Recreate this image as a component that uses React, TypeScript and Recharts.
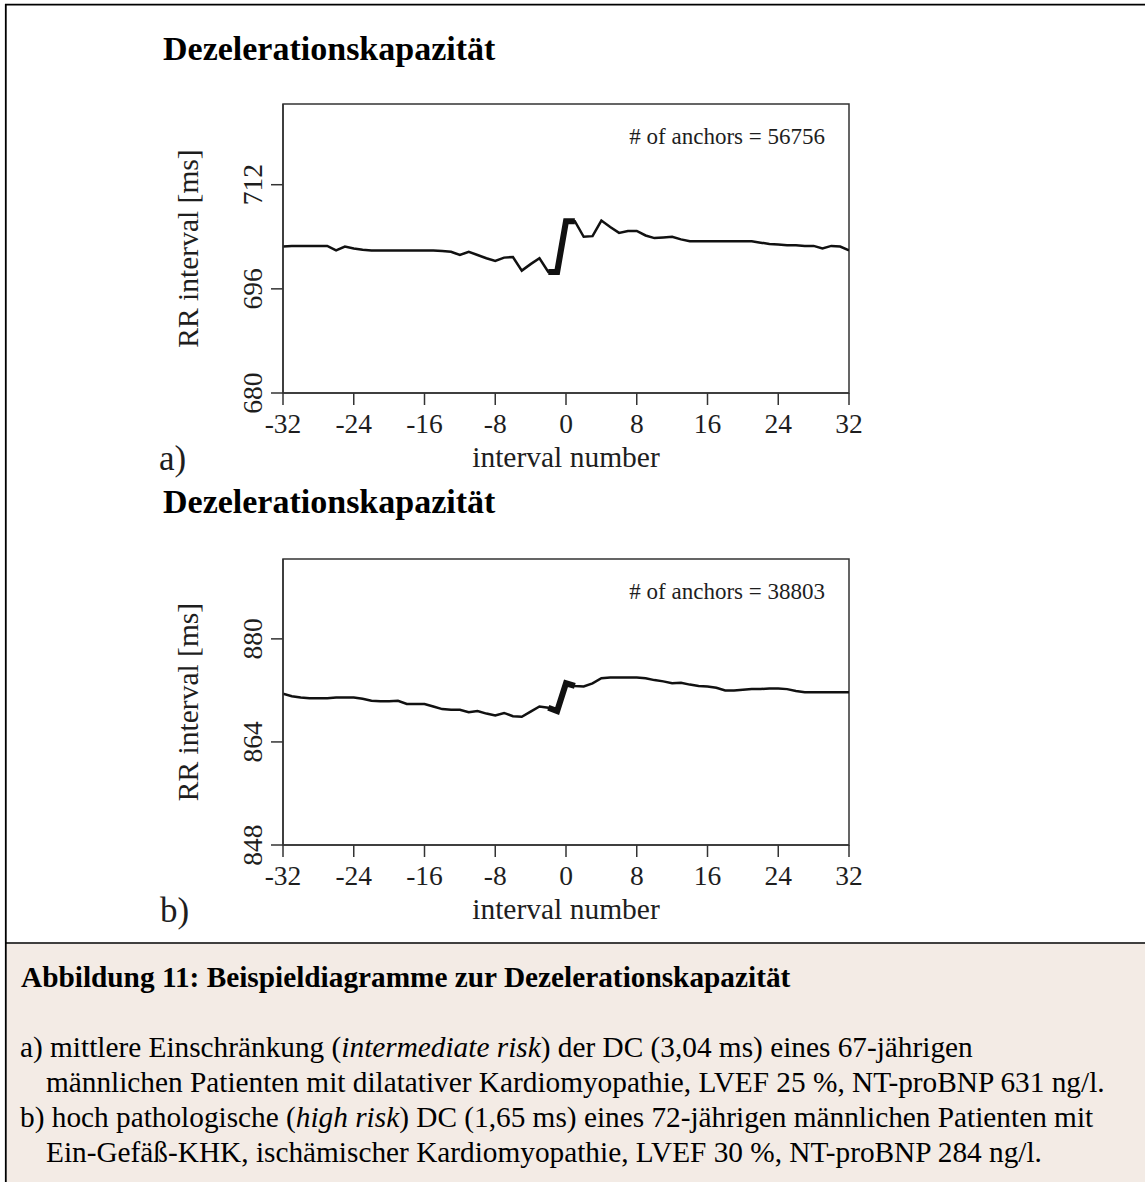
import React from 'react';
import { LineChart, Line, XAxis, YAxis, ReferenceArea, Label } from 'recharts';

const FONT = "'Liberation Serif', 'Times New Roman', Times, serif";
const INK = '#111';
const AXIS = '#333';
const TEXT = '#1e1e1e';
const CAPTION_SIZE = 29.3;

// interval numbers of the PRSA curve (anchor at 0)
const intervalNumbers = [
  -32, -31, -30, -29, -28, -27, -26, -25, -24, -23, -22, -21, -20, -19, -18, -17,
  -16, -15, -14, -13, -12, -11, -10, -9, -8, -7, -6, -5, -4, -3, -2, -1,
  0, 1, 2, 3, 4, 5, 6, 7, 8, 9, 10, 11, 12, 13, 14, 15,
  16, 17, 18, 19, 20, 21, 22, 23, 24, 25, 26, 27, 28, 29, 30, 31, 32,
];

// points entering the DC formula: X(-2), X(-1), X(0), X(1)
const highlighted = [-2, -1, 0, 1];

// a) averaged RR intervals [ms]
const rrA = [
  702.5, 702.6, 702.6, 702.6, 702.6, 702.6, 701.9, 702.5, 702.2, 702.0, 701.9, 701.9, 701.9, 701.9, 701.9, 701.9,
  701.9, 701.9, 701.8, 701.7, 701.2, 701.7, 701.2, 700.7, 700.3, 700.8, 700.9, 698.8, 699.8, 700.7, 698.6, 698.6,
  706.4, 706.4, 704.0, 704.1, 706.5, 705.5, 704.6, 704.9, 704.9, 704.2, 703.8, 703.9, 704.0, 703.6, 703.3, 703.3,
  703.3, 703.3, 703.3, 703.3, 703.3, 703.3, 703.1, 702.9, 702.8, 702.7, 702.7, 702.6, 702.6, 702.2, 702.6, 702.5, 701.9,
];

// b) averaged RR intervals [ms]
const rrB = [
  871.5, 871.1, 870.9, 870.8, 870.8, 870.8, 870.9, 870.9, 870.9, 870.7, 870.4, 870.3, 870.3, 870.4, 869.9, 869.9,
  869.9, 869.5, 869.1, 869.0, 869.0, 868.6, 868.8, 868.4, 868.1, 868.5, 868.0, 867.9, 868.7, 869.5, 869.3, 868.8,
  873.1, 872.7, 872.6, 873.1, 873.9, 874.0, 874.0, 874.0, 874.0, 873.9, 873.6, 873.4, 873.1, 873.2, 872.9, 872.7,
  872.6, 872.4, 872.0, 872.0, 872.1, 872.2, 872.2, 872.3, 872.3, 872.2, 871.9, 871.7, 871.7, 871.7, 871.7, 871.7, 871.7,
];

const xTicks = [-32, -24, -16, -8, 0, 8, 16, 24, 32];
const yTicksA = [680, 696, 712];
const yTicksB = [848, 864, 880];
const yDomainA: [number, number] = [680, 724.4];
const yDomainB: [number, number] = [848, 892.4];
const anchorsA = 56756;
const anchorsB = 38803;

const panelTitle = 'Dezelerationskapazität';

const YTick = (props: any) => {
  const { x, y, payload } = props;
  return (
    <text
      x={x}
      y={y}
      transform={`rotate(-90, ${x}, ${y})`}
      textAnchor="middle"
      fontFamily={FONT}
      fontSize={27.5}
      fill={TEXT}
    >
      {payload.value}
    </text>
  );
};

type PanelProps = {
  values: number[];
  yDomain: [number, number];
  yTicks: number[];
  anchors: number;
  top: number;
  height: number;
  marginTop: number;
};

function Panel({ values, yDomain, yTicks, anchors, top, height, marginTop }: PanelProps) {
  const data = intervalNumbers.map((x, i) => ({
    x,
    rr: values[i],
    dc: highlighted.includes(x) ? values[i] : null,
  }));
  return (
    <div style={{ position: 'absolute', left: 0, top, width: 900, height }}>
      <LineChart
        width={900}
        height={height}
        data={data}
        margin={{ top: marginTop, right: 51, bottom: 4, left: 173 }}
      >
        <XAxis
          type="number"
          dataKey="x"
          domain={[-32, 32]}
          ticks={xTicks}
          interval={0}
          allowDataOverflow
          height={78}
          tickSize={12}
          tickMargin={8.5}
          axisLine={{ stroke: AXIS, strokeWidth: 1.5 }}
          tickLine={{ stroke: AXIS, strokeWidth: 1.5 }}
          tick={{ fontFamily: FONT, fontSize: 27.5, fill: TEXT }}
        >
          <Label
            value="interval number"
            position="insideBottom"
            offset={4}
            style={{ fontFamily: FONT, fontSize: 29.5, fill: TEXT }}
          />
        </XAxis>
        <YAxis
          type="number"
          domain={yDomain}
          ticks={yTicks}
          interval={0}
          allowDataOverflow
          width={110}
          tickSize={12}
          tickMargin={9}
          axisLine={{ stroke: AXIS, strokeWidth: 1.5 }}
          tickLine={{ stroke: AXIS, strokeWidth: 1.5 }}
          tick={<YTick />}
        >
          <Label
            value="RR interval [ms]"
            angle={-90}
            position="insideLeft"
            offset={15}
            style={{ textAnchor: 'middle', fontFamily: FONT, fontSize: 29.5, fill: TEXT }}
          />
        </YAxis>
        <ReferenceArea
          x1={-32}
          x2={32}
          y1={yDomain[0]}
          y2={yDomain[1]}
          fill="none"
          fillOpacity={0}
          stroke={AXIS}
          strokeWidth={1.5}
        >
          <Label
            value={`# of anchors = ${anchors}`}
            position="insideTopRight"
            offset={24}
            style={{ fontFamily: FONT, fontSize: 23, fill: TEXT }}
          />
        </ReferenceArea>
        <Line
          dataKey="rr"
          type="linear"
          stroke={INK}
          strokeWidth={2.5}
          dot={false}
          isAnimationActive={false}
        />
        <Line
          dataKey="dc"
          type="linear"
          stroke={INK}
          strokeWidth={6}
          strokeLinejoin="miter"
          dot={false}
          connectNulls={false}
          isAnimationActive={false}
        />
      </LineChart>
    </div>
  );
}

const captionTitle = 'Abbildung 11: Beispieldiagramme zur Dezelerationskapazität';

export default function App() {
  return (
    <div style={{ position: 'absolute', left: 0, top: 0, width: 1145, height: 1182, background: '#fff' }}>
      <svg
        width={1145}
        height={1182}
        style={{ position: 'absolute', left: 0, top: 0 }}
        fontFamily={FONT}
      >
        <rect x={6.5} y={943.7} width={1140} height={240} fill="#f3ebe5" />
        <line x1={5} y1={4.7} x2={1145} y2={4.7} stroke="#000" strokeWidth={1.8} />
        <line x1={5.8} y1={4} x2={5.8} y2={1182} stroke="#000" strokeWidth={1.8} />
        <line x1={5} y1={943} x2={1145} y2={943} stroke="#000" strokeWidth={1.6} />

        <text x={163} y={60} fontSize={34} fontWeight="bold" fill="#000">{panelTitle}</text>
        <text x={163} y={513} fontSize={34} fontWeight="bold" fill="#000">{panelTitle}</text>
        <text x={159} y={470} fontSize={35} fill={TEXT}>a)</text>
        <text x={160} y={922} fontSize={35} fill={TEXT}>b)</text>

        <text x={21} y={987} fontSize={CAPTION_SIZE} fontWeight="bold" fill="#000">{captionTitle}</text>
        <text x={20} y={1057} fontSize={CAPTION_SIZE} fill="#000">
          a) mittlere Einschränkung (<tspan fontStyle="italic">intermediate risk</tspan>) der DC (3,04 ms) eines 67-jährigen
        </text>
        <text x={46} y={1092} fontSize={CAPTION_SIZE} fill="#000">
          männlichen Patienten mit dilatativer Kardiomyopathie, LVEF 25 %, NT-proBNP 631 ng/l.
        </text>
        <text x={20} y={1127} fontSize={CAPTION_SIZE} fill="#000">
          b) hoch pathologische (<tspan fontStyle="italic">high risk</tspan>) DC (1,65 ms) eines 72-jährigen männlichen Patienten mit
        </text>
        <text x={46} y={1162} fontSize={CAPTION_SIZE} fill="#000">
          Ein-Gefäß-KHK, ischämischer Kardiomyopathie, LVEF 30 %, NT-proBNP 284 ng/l.
        </text>
      </svg>

      <Panel
        values={rrA}
        yDomain={yDomainA}
        yTicks={yTicksA}
        anchors={anchorsA}
        top={0}
        height={475}
        marginTop={104}
      />
      <Panel
        values={rrB}
        yDomain={yDomainB}
        yTicks={yTicksB}
        anchors={anchorsB}
        top={470}
        height={457}
        marginTop={89}
      />
    </div>
  );
}
